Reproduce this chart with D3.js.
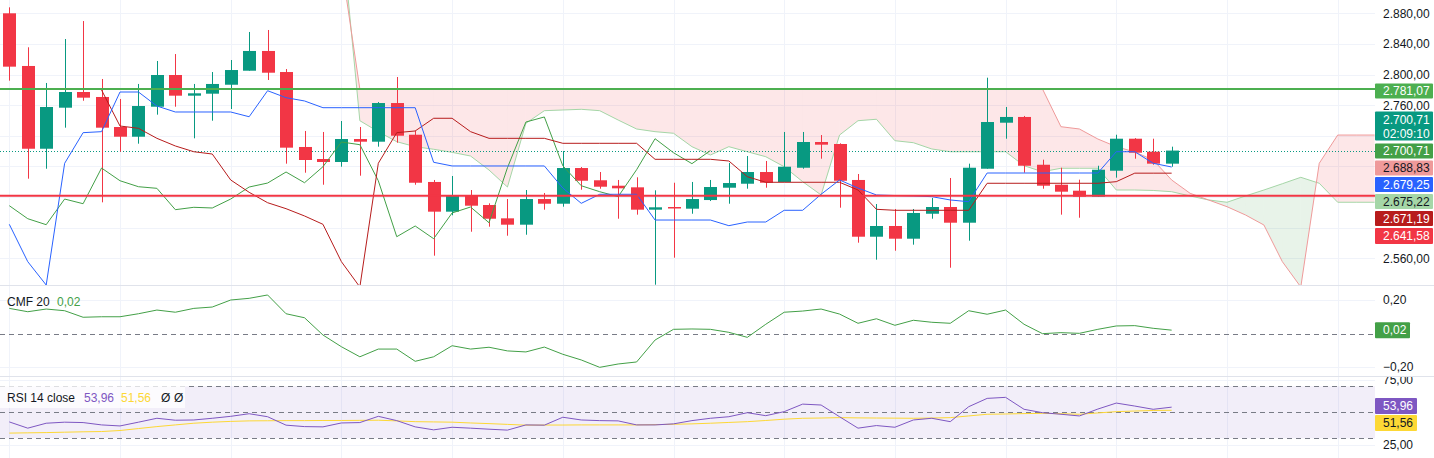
<!DOCTYPE html>
<html><head><meta charset="utf-8">
<script src="https://cdn.jsdelivr.net/npm/d3@7"></script>
<style>html,body{margin:0;padding:0;background:#fff;overflow:hidden}svg{display:block;font-family:"Liberation Sans",Arial,sans-serif}</style>
</head><body>
<svg id="c" width="1434" height="458"></svg>
<script>
// ---------- DATA ----------
const opens=[2880.0,2811.2,2703.1,2756.7,2777.2,2770.7,2731.5,2718.8,2758.0,2799.4,
2772.4,2775.0,2786.7,2805.0,2830.8,2803.3,2705.4,2689.7,2685.8,2715.8,
2712.3,2762.8,2721.4,2659.7,2620.9,2641.4,2629.6,2612.2,2603.9,2637.4,
2631.3,2677.9,2661.9,2654.8,2652.7,2623.5,2627.0,2624.8,2636.1,2652.2,
2657.4,2672.7,2659.7,2678.3,2711.9,2709.3,2662.3,2588.2,2602.2,2585.6,
2618.2,2627.0,2606.5,2677.0,2737.1,2744.6,2682.2,2656.1,2648.3,2640.5,
2674.4,2716.2,2699.2,2683.6];
const highs=[2887.8,2835.6,2789.0,2846.4,2869.9,2794.2,2768.1,2787.7,2817.7,2826.8,
2787.7,2803.3,2819.0,2855.6,2858.2,2807.2,2726.3,2725.0,2739.3,2731.5,
2764.1,2796.8,2726.7,2662.3,2667.5,2649.2,2631.8,2637.4,2649.2,2645.3,
2700.1,2679.2,2672.7,2662.3,2665.8,2648.8,2658.7,2659.7,2662.3,2684.5,
2693.6,2687.1,2725.0,2725.0,2721.0,2710.2,2670.1,2630.9,2624.4,2624.4,
2638.8,2664.9,2683.6,2795.9,2757.6,2745.9,2688.8,2678.3,2662.7,2680.9,
2721.4,2717.0,2716.2,2705.8];
const lows=[2792.0,2664.0,2677.0,2730.6,2765.8,2633.1,2699.2,2709.7,2747.6,2758.0,
2716.7,2739.7,2755.0,2805.0,2792.9,2683.6,2671.8,2656.1,2679.6,2667.9,
2705.8,2711.0,2656.1,2563.4,2616.2,2594.7,2601.3,2589.5,2590.8,2623.5,
2627.4,2649.6,2650.9,2611.7,2617.0,2525.5,2560.8,2618.2,2634.8,2631.3,
2650.9,2652.2,2659.7,2677.0,2690.1,2626.1,2580.4,2558.2,2569.9,2577.8,
2611.7,2547.7,2583.0,2677.0,2716.2,2671.8,2650.9,2617.0,2613.0,2640.5,
2665.3,2690.1,2682.2,2679.6];
const closes=[2810.3,2703.1,2757.6,2777.2,2769.8,2730.6,2718.8,2758.9,2799.4,2772.4,
2775.5,2787.7,2805.9,2830.8,2802.4,2704.5,2688.4,2685.8,2715.8,2712.3,
2762.8,2720.1,2658.7,2620.9,2641.4,2628.7,2611.7,2603.9,2637.4,2631.3,
2677.9,2661.3,2653.5,2651.4,2623.5,2626.6,2625.7,2637.4,2653.1,2658.3,
2672.7,2658.7,2679.6,2711.9,2708.4,2661.3,2588.2,2602.2,2585.6,2619.2,
2627.0,2606.5,2678.3,2738.0,2744.6,2680.9,2654.8,2647.0,2640.5,2675.7,
2716.2,2697.9,2683.6,2700.71];
// Ichimoku conversion line (bars 0..63)
const conversion=[2604.4,2555.6,2525.1,2684.1,2724.1,2725.4,2777.2,2777.2,2758.9,2751.1,
2751.1,2751.1,2751.1,2744.9,2778.9,2769.8,2765.5,2756.7,2756.7,2756.7,
2756.7,2756.7,2756.7,2685.4,2680.6,2680.6,2680.6,2680.6,2680.6,2680.6,
2651.8,2631.8,2643.6,2643.6,2643.6,2610.0,2610.0,2610.0,2610.0,2602.6,
2607.4,2607.4,2622.7,2622.7,2643.6,2662.3,2651.8,2642.7,2642.0,2641.4,
2640.5,2636.2,2633.9,2671.4,2671.4,2671.4,2671.4,2671.4,2671.4,2671.4,
2699.2,2699.2,2684.1,2679.25];
// Ichimoku base line (bars 0..63, none before bar 5)
const base=[null,null,null,null,null,2779.8,2732.8,2729.8,2716.7,2706.7,
2699.2,2696.2,2662.3,2646.2,2632.6,2624.8,2615.3,2604.4,2555.6,2522.5,
2684.1,2724.1,2726.3,2742.9,2742.9,2725.4,2716.7,2716.7,2716.7,2716.7,
2710.2,2710.2,2710.2,2710.2,2710.2,2689.3,2689.3,2689.3,2689.3,2687.1,
2666.6,2659.3,2659.3,2659.3,2659.3,2659.3,2649.2,2624.0,2622.7,2622.7,
2622.7,2622.7,2622.7,2658.0,2658.0,2658.0,2658.0,2658.0,2658.0,2658.0,
2660.1,2671.19,2671.19,2671.19];
// Lagging span: close plotted 25 bars back
const laggingShift=25;
// Leading spans, bars 18..74
const cloudStart=18;
const spanA=[2991.4,2739.7,2725.4,2712.3,2705.8,2702.4,2698.4,2693.6,2675.3,2653.1,
2736.3,2752.8,2753.7,2754.6,2752.8,2740.6,2728.9,2725.4,2723.3,2705.8,
2694.9,2705.8,2699.2,2692.7,2679.6,2660.1,2642.7,2721.0,2739.7,2741.6,
2713.6,2711.0,2702.8,2699.2,2699.2,2699.2,2699.2,2680.9,2673.1,2677.6,
2677.6,2677.6,2649.2,2649.2,2648.6,2647.0,2641.4,2636.2,2633.2,2641.4,
2649.2,2657.4,2665.8,2658.0,2633.2,2633.2,2633.2];
const spanB=[2944.4,2781.1,2781.1,2781.1,2781.1,2781.1,2781.1,2781.1,2781.1,2781.1,
2781.1,2781.1,2781.1,2781.1,2781.1,2781.1,2781.1,2781.1,2781.1,2781.1,
2781.1,2781.1,2781.1,2781.1,2781.1,2781.1,2781.1,2781.1,2781.1,2781.1,
2781.1,2781.1,2781.1,2781.1,2781.1,2781.1,2781.1,2781.1,2781.1,2731.9,
2728.9,2715.8,2705.8,2698.9,2688.4,2662.3,2644.9,2636.2,2627.4,2616.6,
2603.5,2555.6,2522.5,2684.1,2721.0,2721.0,2721.0];
const levelGreen=2781.07, levelRed=2641.58, lastPrice=2700.71;
const cmf=[0.150,0.130,0.146,0.136,0.097,0.100,0.100,0.118,0.140,0.127,
0.150,0.158,0.200,0.210,0.230,0.118,0.094,-0.009,-0.079,-0.139,
-0.093,-0.093,-0.166,-0.139,-0.073,-0.093,-0.082,-0.104,-0.110,-0.081,
-0.124,-0.158,-0.202,-0.182,-0.170,-0.039,0.025,0.027,0.025,0.007,
-0.023,0.055,0.127,0.134,0.146,0.116,0.061,0.088,0.049,0.079,
0.067,0.061,0.136,0.115,0.140,0.055,-0.001,0.005,0.001,0.025,
0.045,0.047,0.031,0.020];
const rsi=[42.6,37.8,41.6,42.4,42.1,40.3,39.5,42.4,45.4,43.9,
44.1,45.4,46.9,48.9,46.6,40.1,39.0,38.8,41.8,42.1,
46.9,43.6,38.8,36.5,38.5,37.8,37.0,36.3,40.3,40.1,
46.2,44.1,43.6,43.4,40.3,40.3,41.1,43.6,45.4,46.6,
49.7,47.4,50.5,56.3,55.6,46.6,37.8,39.8,38.5,44.1,
45.4,42.8,54.3,60.7,61.5,52.3,49.7,48.5,47.2,52.5,
57.1,54.8,52.3,53.96];
const rsiMA=[34.0,34.2,34.4,34.7,35.0,35.2,36.0,37.5,39.0,40.3,
41.6,42.4,43.0,43.4,43.5,43.6,43.6,43.7,43.7,43.8,
43.9,43.4,42.8,42.6,42.4,41.8,41.3,40.7,40.1,40.2,
40.2,40.3,40.3,40.3,40.3,40.5,40.8,41.1,41.6,42.2,
42.8,43.7,44.7,45.4,45.6,45.9,45.7,45.6,45.5,45.4,
45.6,45.9,47.2,48.5,48.7,49.0,49.2,48.9,48.5,49.5,
50.5,51.0,51.4,51.56];
const priceTicks=[2560,2600,2640,2680,2720,2760,2800,2840,2880];
const cmfTicks=[-0.2,0.2];
const rsiTicks=[25,75];
const rsiLevels=[30,50,70];
const gridBars=[0,6,12,18,24,30,36,42,48,54,60,66,72];
const tags=[
 {v:"2.781,07",bg:"#4CAF50",fg:"#fff",y0:83.5,h:15},
 {v:"2.700,71",v2:"02:09:10",bg:"#089981",fg:"#fff",y0:111.5,h:29},
 {v:"2.700,71",bg:"#43A047",fg:"#fff",y0:143.5,h:15},
 {v:"2.688,83",bg:"#EF9A9A",fg:"#131722",y0:160.5,h:15},
 {v:"2.679,25",bg:"#2962FF",fg:"#fff",y0:177,h:15},
 {v:"2.675,22",bg:"#A5D6A7",fg:"#131722",y0:194,h:15},
 {v:"2.671,19",bg:"#B71C1C",fg:"#fff",y0:211,h:15},
 {v:"2.641,58",bg:"#F23645",fg:"#fff",y0:228,h:16}
];

// ---------- SETUP ----------
const svg=d3.select("#c");
const plotR=1375, mainB=285, cmfT=286, cmfB=376, rsiT=377, H=458;
const x=d3.scaleLinear().domain([0,74]).range([9.3,9.3+18.45*74]);
const y=d3.scaleLinear().domain([2560,2880]).range([258.3,13.3]);
const yC=d3.scaleLinear().domain([-0.2,0.2]).range([367,300]);
const yR=d3.scaleLinear().domain([30,70]).range([438.3,386.3]);
const loc=d3.formatLocale({decimal:",",thousands:".",grouping:[3],currency:["",""],minus:"\u2212"});
const fmt=loc.format(",.2f");
const defs=svg.append("defs");
defs.append("clipPath").attr("id","cMain").append("rect").attr("x",0).attr("y",0).attr("width",plotR).attr("height",mainB);
defs.append("clipPath").attr("id","cCmf").append("rect").attr("x",0).attr("y",cmfT).attr("width",plotR).attr("height",cmfB-cmfT);
defs.append("clipPath").attr("id","cRsi").append("rect").attr("x",0).attr("y",rsiT).attr("width",plotR).attr("height",H-rsiT);
defs.append("clipPath").attr("id","cRsiAx").append("rect").attr("x",plotR).attr("y",rsiT).attr("width",60).attr("height",H-rsiT);

const gridC="#f0f3fa";
svg.append("g").selectAll("line").data(gridBars).join("line")
 .attr("x1",d=>Math.round(x(d))+0.5).attr("x2",d=>Math.round(x(d))+0.5)
 .attr("y1",0).attr("y2",H).attr("stroke",gridC);
svg.append("g").selectAll("line").data(priceTicks).join("line")
 .attr("x1",0).attr("x2",plotR).attr("y1",d=>Math.round(y(d))+0.5).attr("y2",d=>Math.round(y(d))+0.5).attr("stroke",gridC);
svg.append("g").selectAll("line").data(cmfTicks).join("line")
 .attr("x1",0).attr("x2",plotR).attr("y1",d=>Math.round(yC(d))+0.5).attr("y2",d=>Math.round(yC(d))+0.5).attr("stroke",gridC);
svg.append("g").selectAll("line").data(rsiTicks).join("line")
 .attr("x1",0).attr("x2",plotR).attr("y1",d=>Math.round(yR(d))+0.5).attr("y2",d=>Math.round(yR(d))+0.5).attr("stroke",gridC);

// ---------- MAIN PANE ----------
const gM=svg.append("g").attr("clip-path","url(#cMain)");
const cloud=gM.append("g");
for(let k=0;k<spanA.length-1;k++){
  const i0=cloudStart+k,i1=i0+1;
  const a0=spanA[k],a1=spanA[k+1],b0=spanB[k],b1=spanB[k+1];
  const d0=b0-a0,d1=b1-a1;
  const col=d=>d>=0?"rgba(242,54,69,0.12)":"rgba(67,160,71,0.12)";
  if(d0*d1>=0){
    const pts=[[x(i0),y(a0)],[x(i1),y(a1)],[x(i1),y(b1)],[x(i0),y(b0)]];
    cloud.append("path").attr("d","M"+pts.join("L")+"Z").attr("fill",col(d0+d1));
  }else{
    const t=d0/(d0-d1), xc=i0+t, pc=a0+t*(a1-a0);
    cloud.append("path").attr("d","M"+[[x(i0),y(a0)],[x(xc),y(pc)],[x(i0),y(b0)]].join("L")+"Z").attr("fill",col(d0));
    cloud.append("path").attr("d","M"+[[x(xc),y(pc)],[x(i1),y(a1)],[x(i1),y(b1)]].join("L")+"Z").attr("fill",col(d1));
  }
}
const lineIdx=(arr,off)=>d3.line().defined(d=>d!=null).x((d,i)=>x(i+off)).y(d=>y(d))(arr);
gM.append("path").attr("d",lineIdx(spanA,cloudStart)).attr("fill","none").attr("stroke","#A5D6A7").attr("stroke-width",1);
gM.append("path").attr("d",lineIdx(spanB,cloudStart)).attr("fill","none").attr("stroke","#EF9A9A").attr("stroke-width",1);

gM.append("line").attr("x1",0).attr("x2",plotR).attr("y1",Math.round(y(lastPrice))+0.5).attr("y2",Math.round(y(lastPrice))+0.5)
 .attr("stroke","#089981").attr("stroke-dasharray","1,2");

const bars=opens.map((o,i)=>({i,o,h:highs[i],l:lows[i],c:closes[i]}));
const cg=gM.append("g");
bars.forEach(b=>{
  const col=b.c>=b.o?"#089981":"#F23645";
  const cx=Math.round(x(b.i))+0.5;
  cg.append("line").attr("x1",cx).attr("x2",cx).attr("y1",y(b.h)).attr("y2",y(b.l)).attr("stroke",col).attr("stroke-width",1);
  const top=y(Math.max(b.o,b.c)),bot=y(Math.min(b.o,b.c));
  cg.append("rect").attr("x",Math.round(x(b.i))-6).attr("y",top).attr("width",13).attr("height",Math.max(1.5,bot-top)).attr("fill",col);
});

gM.append("path").attr("d",lineIdx(closes.slice(laggingShift),0)).attr("fill","none").attr("stroke","#43A047").attr("stroke-width",1);
gM.append("path").attr("d",lineIdx(base,0)).attr("fill","none").attr("stroke","#B71C1C").attr("stroke-width",1);
gM.append("path").attr("d",lineIdx(conversion,0)).attr("fill","none").attr("stroke","#2962FF").attr("stroke-width",1);

gM.append("line").attr("x1",0).attr("x2",plotR).attr("y1",y(levelGreen)).attr("y2",y(levelGreen)).attr("stroke","#4CAF50").attr("stroke-width",2);
gM.append("line").attr("x1",0).attr("x2",plotR).attr("y1",y(levelRed)).attr("y2",y(levelRed)).attr("stroke","#F23645").attr("stroke-width",2);

// ---------- CMF PANE ----------
const gC=svg.append("g").attr("clip-path","url(#cCmf)");
gC.append("line").attr("x1",0).attr("x2",plotR).attr("y1",Math.round(yC(0))+0.5).attr("y2",Math.round(yC(0))+0.5)
 .attr("stroke","#787B86").attr("stroke-dasharray","5,4");
gC.append("path").attr("d",d3.line().x((d,i)=>x(i)).y(d=>yC(d))(cmf)).attr("fill","none").attr("stroke","#43A047").attr("stroke-width",1);
svg.append("text").attr("x",7).attr("y",306).attr("font-size",12).attr("fill","#131722").text("CMF 20");
svg.append("text").attr("x",57).attr("y",306).attr("font-size",12).attr("fill","#43A047").text(fmt(cmf[cmf.length-1]));

// ---------- RSI PANE ----------
const gR=svg.append("g").attr("clip-path","url(#cRsi)");
gR.append("rect").attr("x",0).attr("width",plotR).attr("y",yR(70)).attr("height",yR(30)-yR(70)).attr("fill","rgba(126,87,194,0.1)");
gR.selectAll("line.lv").data(rsiLevels).join("line").attr("class","lv")
 .attr("x1",0).attr("x2",plotR).attr("y1",d=>Math.round(yR(d))+0.5).attr("y2",d=>Math.round(yR(d))+0.5)
 .attr("stroke","#787B86").attr("stroke-dasharray","5,4");
gR.append("path").attr("d",d3.line().x((d,i)=>x(i)).y(d=>yR(d))(rsiMA)).attr("fill","none").attr("stroke","#FDD835").attr("stroke-width",1);
gR.append("path").attr("d",d3.line().x((d,i)=>x(i)).y(d=>yR(d))(rsi)).attr("fill","none").attr("stroke","#7E57C2").attr("stroke-width",1);
svg.append("rect").attr("x",0).attr("y",386).attr("width",185).attr("height",22).attr("fill","rgba(255,255,255,0.75)");
const legend=[
 {t:"RSI 14 close",x:7,c:"#131722"},
 {t:fmt(rsi[rsi.length-1]),x:84,c:"#7E57C2"},
 {t:fmt(rsiMA[rsiMA.length-1]),x:121,c:"#FDD835"},
 {t:"\u00D8",x:161,c:"#131722"},
 {t:"\u00D8",x:174,c:"#131722"}];
svg.append("g").selectAll("text").data(legend).join("text")
 .attr("x",d=>d.x).attr("y",402).attr("font-size",12).attr("fill",d=>d.c).text(d=>d.t);

svg.append("line").attr("x1",0).attr("x2",1434).attr("y1",mainB+0.5).attr("y2",mainB+0.5).attr("stroke","#e0e3eb");
svg.append("line").attr("x1",0).attr("x2",1434).attr("y1",cmfB+0.5).attr("y2",cmfB+0.5).attr("stroke","#e0e3eb");

// ---------- AXES ----------
const hidden=d=>tags.some(t=>Math.abs(y(d)-(t.y0+t.h/2))<(t.h/2+6));
const ax=svg.append("g").attr("transform",`translate(${plotR},0)`)
 .call(d3.axisRight(y).tickValues(priceTicks.filter(d=>!hidden(d))).tickSize(0).tickPadding(8).tickFormat(fmt));
const axC=svg.append("g").attr("transform",`translate(${plotR},0)`)
 .call(d3.axisRight(yC).tickValues(cmfTicks).tickSize(0).tickPadding(8).tickFormat(fmt));
const axR=svg.append("g").attr("clip-path","url(#cRsiAx)").append("g").attr("transform",`translate(${plotR},0)`)
 .call(d3.axisRight(yR).tickValues(rsiTicks).tickSize(0).tickPadding(8).tickFormat(fmt));
[ax,axC,axR].forEach(a=>{a.select(".domain").remove();a.selectAll("text").attr("font-size",12).attr("fill","#131722").attr("font-family","Liberation Sans, Arial, sans-serif");});

const tg=svg.append("g");
tags.forEach(t=>{
  tg.append("rect").attr("x",plotR).attr("y",t.y0).attr("width",58).attr("height",t.h).attr("fill",t.bg).attr("rx",1);
  tg.append("text").attr("x",plotR+8).attr("y",t.y0+(t.v2?12:11.5)).attr("font-size",12).attr("fill",t.fg).text(t.v);
  if(t.v2) tg.append("text").attr("x",plotR+8).attr("y",t.y0+26).attr("font-size",12).attr("fill",t.fg).text(t.v2);
});
const smallTag=(yc,txt,bg,fg)=>{
  tg.append("rect").attr("x",plotR).attr("y",yc-8).attr("width",txt.length*7+7).attr("height",16).attr("fill",bg).attr("rx",1);
  tg.append("text").attr("x",plotR+8).attr("y",yc+4).attr("font-size",12).attr("fill",fg).text(txt);
};
smallTag(yC(cmf[cmf.length-1]),fmt(cmf[cmf.length-1]),"#43A047","#fff");
smallTag(406,fmt(rsi[rsi.length-1]),"#7E57C2","#fff");
smallTag(423,fmt(rsiMA[rsiMA.length-1]),"#FDD835","#131722");
</script>
</body></html>
